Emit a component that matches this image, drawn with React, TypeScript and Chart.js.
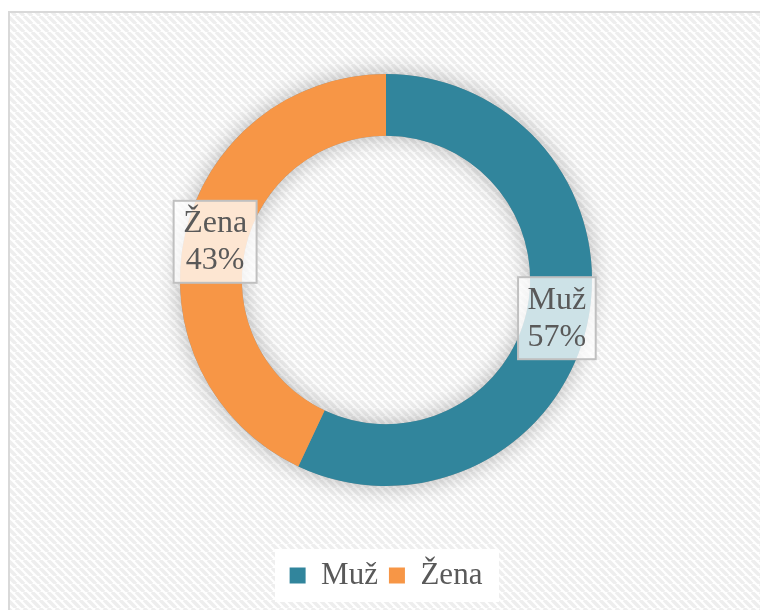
import React, { useEffect, useRef } from "react";
import { Chart, registerables } from "chart.js";

Chart.register(...registerables);

const categories = ["Muž", "Žena"];
const values = [57, 43];
const colors = ["#31859C", "#F79646"];

const FONT = '"Liberation Serif", "Times New Roman", serif';
const TEXT = "#595959";

function makePattern(ctx: CanvasRenderingContext2D) {
  const c = document.createElement("canvas");
  c.width = 8;
  c.height = 8;
  const p = c.getContext("2d")!;
  p.fillStyle = "#ffffff";
  p.fillRect(0, 0, 8, 8);
  p.strokeStyle = "#eeeeee";
  p.lineWidth = 3.5;
  for (const k of [-8, 0, 8]) {
    p.beginPath();
    p.moveTo(k, 0);
    p.lineTo(k + 8, 8);
    p.stroke();
  }
  return ctx.createPattern(c, "repeat")!;
}

const backgroundPlugin = {
  id: "bgFrame",
  beforeDraw(chart: any) {
    const ctx = chart.ctx as CanvasRenderingContext2D;
    ctx.save();
    ctx.fillStyle = "#ffffff";
    ctx.fillRect(0, 0, chart.width, chart.height);
    ctx.fillStyle = makePattern(ctx);
    ctx.fillRect(9, 11, chart.width - 9, chart.height - 11);
    ctx.strokeStyle = "#d9d9d9";
    ctx.lineWidth = 2;
    ctx.beginPath();
    ctx.moveTo(9, chart.height);
    ctx.lineTo(9, 12);
    ctx.lineTo(chart.width, 12);
    ctx.stroke();
    const lg = chart.legend;
    if (lg) {
      const cx = (lg.left + lg.right) / 2;
      const w = 224;
      ctx.fillStyle = "#ffffff";
      ctx.fillRect(cx - w / 2 + 1, lg.top, w, lg.bottom - lg.top + 1);
    }
    ctx.restore();
  },
};

const shadowPlugin = {
  id: "ringShadow",
  beforeDatasetsDraw(chart: any) {
    const meta = chart.getDatasetMeta(0);
    const arc = meta.data[0];
    if (!arc) return;
    const { x, y, outerRadius, innerRadius } = arc.getProps(
      ["x", "y", "outerRadius", "innerRadius"],
      true
    );
    const ctx = chart.ctx as CanvasRenderingContext2D;
    ctx.save();
    ctx.shadowColor = "rgba(0,0,0,0.28)";
    ctx.shadowBlur = 22;
    ctx.fillStyle = "#999999";
    ctx.beginPath();
    ctx.arc(x, y, outerRadius, 0, Math.PI * 2);
    ctx.arc(x, y, innerRadius, Math.PI * 2, 0, true);
    ctx.closePath();
    ctx.fill();
    ctx.restore();
  },
};

const labelPlugin = {
  id: "boxLabels",
  afterDatasetsDraw(chart: any) {
    const ctx = chart.ctx as CanvasRenderingContext2D;
    const meta = chart.getDatasetMeta(0);
    const data = chart.data.datasets[0].data as number[];
    const total = data.reduce((a, b) => a + b, 0);
    ctx.save();
    ctx.font = `32px ${FONT}`;
    ctx.textAlign = "center";
    ctx.textBaseline = "middle";
    meta.data.forEach((el: any, i: number) => {
      const pos = el.tooltipPosition(true);
      const lines = [
        String(chart.data.labels[i]),
        Math.round((data[i] / total) * 100) + "%",
      ];
      const tw = Math.max(...lines.map((l) => ctx.measureText(l).width));
      const w = tw + 19;
      const h = 82;
      const bx = pos.x - w / 2;
      const by = pos.y - h / 2;
      ctx.fillStyle = "rgba(255,255,255,0.76)";
      ctx.fillRect(bx, by, w, h);
      ctx.strokeStyle = "#c0c0c0";
      ctx.lineWidth = 2;
      ctx.strokeRect(bx, by, w, h);
      ctx.fillStyle = TEXT;
      ctx.fillText(lines[0], pos.x, pos.y - 18);
      ctx.fillText(lines[1], pos.x, pos.y + 19);
    });
    ctx.restore();
  },
};

export default function App() {
  const ref = useRef<HTMLCanvasElement>(null);
  useEffect(() => {
    if (!ref.current) return;
    const chart = new Chart(ref.current, {
      type: "doughnut",
      data: {
        labels: categories,
        datasets: [
          {
            data: values,
            backgroundColor: colors,
            borderWidth: 0,
            radius: 206,
            cutout: "70%",
          } as any,
        ],
      },
      options: {
        responsive: false,
        animation: false,
        devicePixelRatio: 1,
        layout: { padding: { top: 11, bottom: 9, left: 12, right: 0 } },
        plugins: {
          legend: {
            position: "bottom",
            labels: {
              boxWidth: 16,
              boxHeight: 16,
              padding: 11,
              color: TEXT,
              font: { family: FONT, size: 31 },
            },
          },
          tooltip: { enabled: false },
        },
      },
      plugins: [backgroundPlugin, shadowPlugin, labelPlugin],
    });
    return () => chart.destroy();
  }, []);
  return (
    <div
      style={{
        position: "fixed",
        left: 0,
        top: 0,
        width: 760,
        height: 610,
        overflow: "hidden",
      }}
    >
      <canvas ref={ref} width={760} height={610} style={{ display: "block" }} />
    </div>
  );
}
